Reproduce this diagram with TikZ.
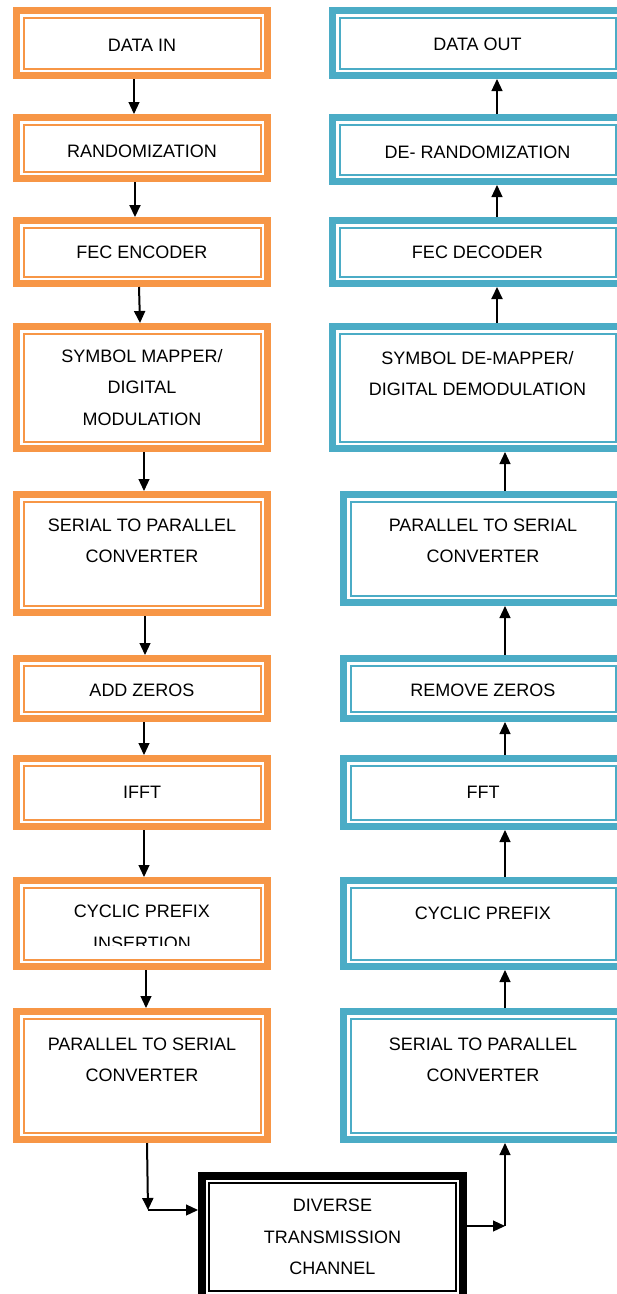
\documentclass[tikz,border=0pt]{standalone}
\usepackage{fontspec}
\setmainfont{Liberation Sans}
\usetikzlibrary{arrows.meta}
\definecolor{txorange}{HTML}{F79646}
\definecolor{rxblue}{HTML}{4BACC6}
\begin{document}
\begin{tikzpicture}[x=1pt,y=-1pt,>={Triangle[length=12pt,width=11pt]},
    blk/.style={draw=#1,line width=7pt,inner sep=0pt,align=center,font=\fontsize{18}{31.5}\selectfont,
        path picture={\draw[#1,line width=2pt]([shift={(7pt,-7pt)}]path picture bounding box.north west)rectangle([shift={(-7pt,7pt)}]path picture bounding box.south east);}},
    tx/.style={blk=txorange,minimum width=251pt},
    rxa/.style={blk=rxblue,minimum width=290pt},
    rxb/.style={blk=rxblue,minimum width=279pt},
    con/.style={->,line width=1.2pt}]
    \useasboundingbox(0,0)rectangle(617,1294);
    \clip(0,0)rectangle(617,1294);
    \node[tx,minimum height=65pt,text height=16pt](din)at(142,43){DATA IN};
    \node[tx,minimum height=61pt,text height=20pt](rnd)at(142,148){RANDOMIZATION};
    \node[tx,minimum height=63pt](fec)at(142,252){FEC ENCODER};
    \node[tx,minimum height=122pt](map)at(142,387.5){SYMBOL MAPPER/\\DIGITAL\\MODULATION};
    \node[tx,minimum height=118pt,text depth=26pt](sp)at(142,553.5){SERIAL TO PARALLEL\\CONVERTER};
    \node[tx,minimum height=60pt,text height=16pt](az)at(142,688.5){ADD ZEROS};
    \node[tx,minimum height=68pt](ifft)at(142,792.5){IFFT};
    \node[tx,minimum height=86pt](cpi)at(142,923.5){};
    \begin{scope}
        \clip(cpi.north west)rectangle([yshift=25pt]cpi.south east);
        \node[align=center,font=\fontsize{18}{31.5}\selectfont](cpitxt)at([yshift=-4pt]cpi.center){CYCLIC PREFIX\\INSERTION};
    \end{scope}
    \node[tx,minimum height=128pt,text depth=32pt](ps)at(142,1075.5){PARALLEL TO SERIAL\\CONVERTER};
    \node[rxa,minimum height=65pt,text height=16pt](dout)at(477.5,43){DATA OUT};
    \node[rxa,minimum height=64pt,text height=18pt](drnd)at(477.5,149.5){DE- RANDOMIZATION};
    \node[rxa,minimum height=63pt](fdec)at(477.5,252){FEC DECODER};
    \node[rxa,minimum height=122pt,text depth=28pt](dmap)at(477.5,387.5){SYMBOL DE-MAPPER/\\DIGITAL DEMODULATION};
    \node[rxb,minimum height=108pt,text depth=16pt](ps2)at(483,548.5){PARALLEL TO SERIAL\\CONVERTER};
    \node[rxb,minimum height=60pt,text height=16pt](rz)at(483,688.5){REMOVE ZEROS};
    \node[rxb,minimum height=68pt](fft)at(483,792.5){FFT};
    \node[rxb,minimum height=86pt,text depth=20pt](cp)at(483,923.5){CYCLIC PREFIX};
    \node[rxb,minimum height=128pt,text depth=32pt](sp2)at(483,1075.5){SERIAL TO PARALLEL\\CONVERTER};
    \node[blk=black,line width=8pt,minimum width=261pt,minimum height=122pt](chan)at(332.5,1237){DIVERSE\\TRANSMISSION\\CHANNEL};
    \draw[con]([xshift=-8pt]din.south)--([xshift=-8pt]rnd.north);
    \draw[con,line width=2pt]([xshift=-7pt]rnd.south)--([xshift=-7pt]fec.north);
    \draw[con,line width=2pt]([xshift=-3pt]fec.south)--([xshift=-2pt]map.north);
    \draw[con]([xshift=2pt]map.south)--([xshift=2pt]sp.north);
    \draw[con]([xshift=3pt]sp.south)--([xshift=3pt]az.north);
    \draw[con]([xshift=2pt]az.south)--([xshift=2pt]ifft.north);
    \draw[con]([xshift=2pt]ifft.south)--([xshift=2pt]cpi.north);
    \draw[con]([xshift=4pt]cpi.south)--([xshift=4pt]ps.north);
    \coordinate(jl)at(148,1210);
    \draw[con,line width=2pt]([xshift=5pt]ps.south)--(jl);
    \draw[con](jl)--(chan.west|-jl);
    \coordinate(jr)at(505,1226);
    \draw[con](chan.east|-jr)--(jr);
    \draw[con](jr)--(sp2.south-|jr);
    \draw[con]([xshift=22pt]sp2.north)--([xshift=22pt]cp.south);
    \draw[con]([xshift=22pt]cp.north)--([xshift=22pt]fft.south);
    \draw[con]([xshift=22pt]fft.north)--([xshift=22pt]rz.south);
    \draw[con]([xshift=22pt]rz.north)--([xshift=22pt]ps2.south);
    \draw[con]([xshift=22pt]ps2.north)--([xshift=27.5pt]dmap.south);
    \draw[con,line width=2pt]([xshift=19.5pt]dmap.north)--([xshift=19.5pt]fdec.south);
    \draw[con]([xshift=19.5pt]fdec.north)--([xshift=19.5pt]drnd.south);
    \draw[con]([xshift=19.5pt]drnd.north)--([xshift=19.5pt]dout.south);
\end{tikzpicture}
\end{document}
